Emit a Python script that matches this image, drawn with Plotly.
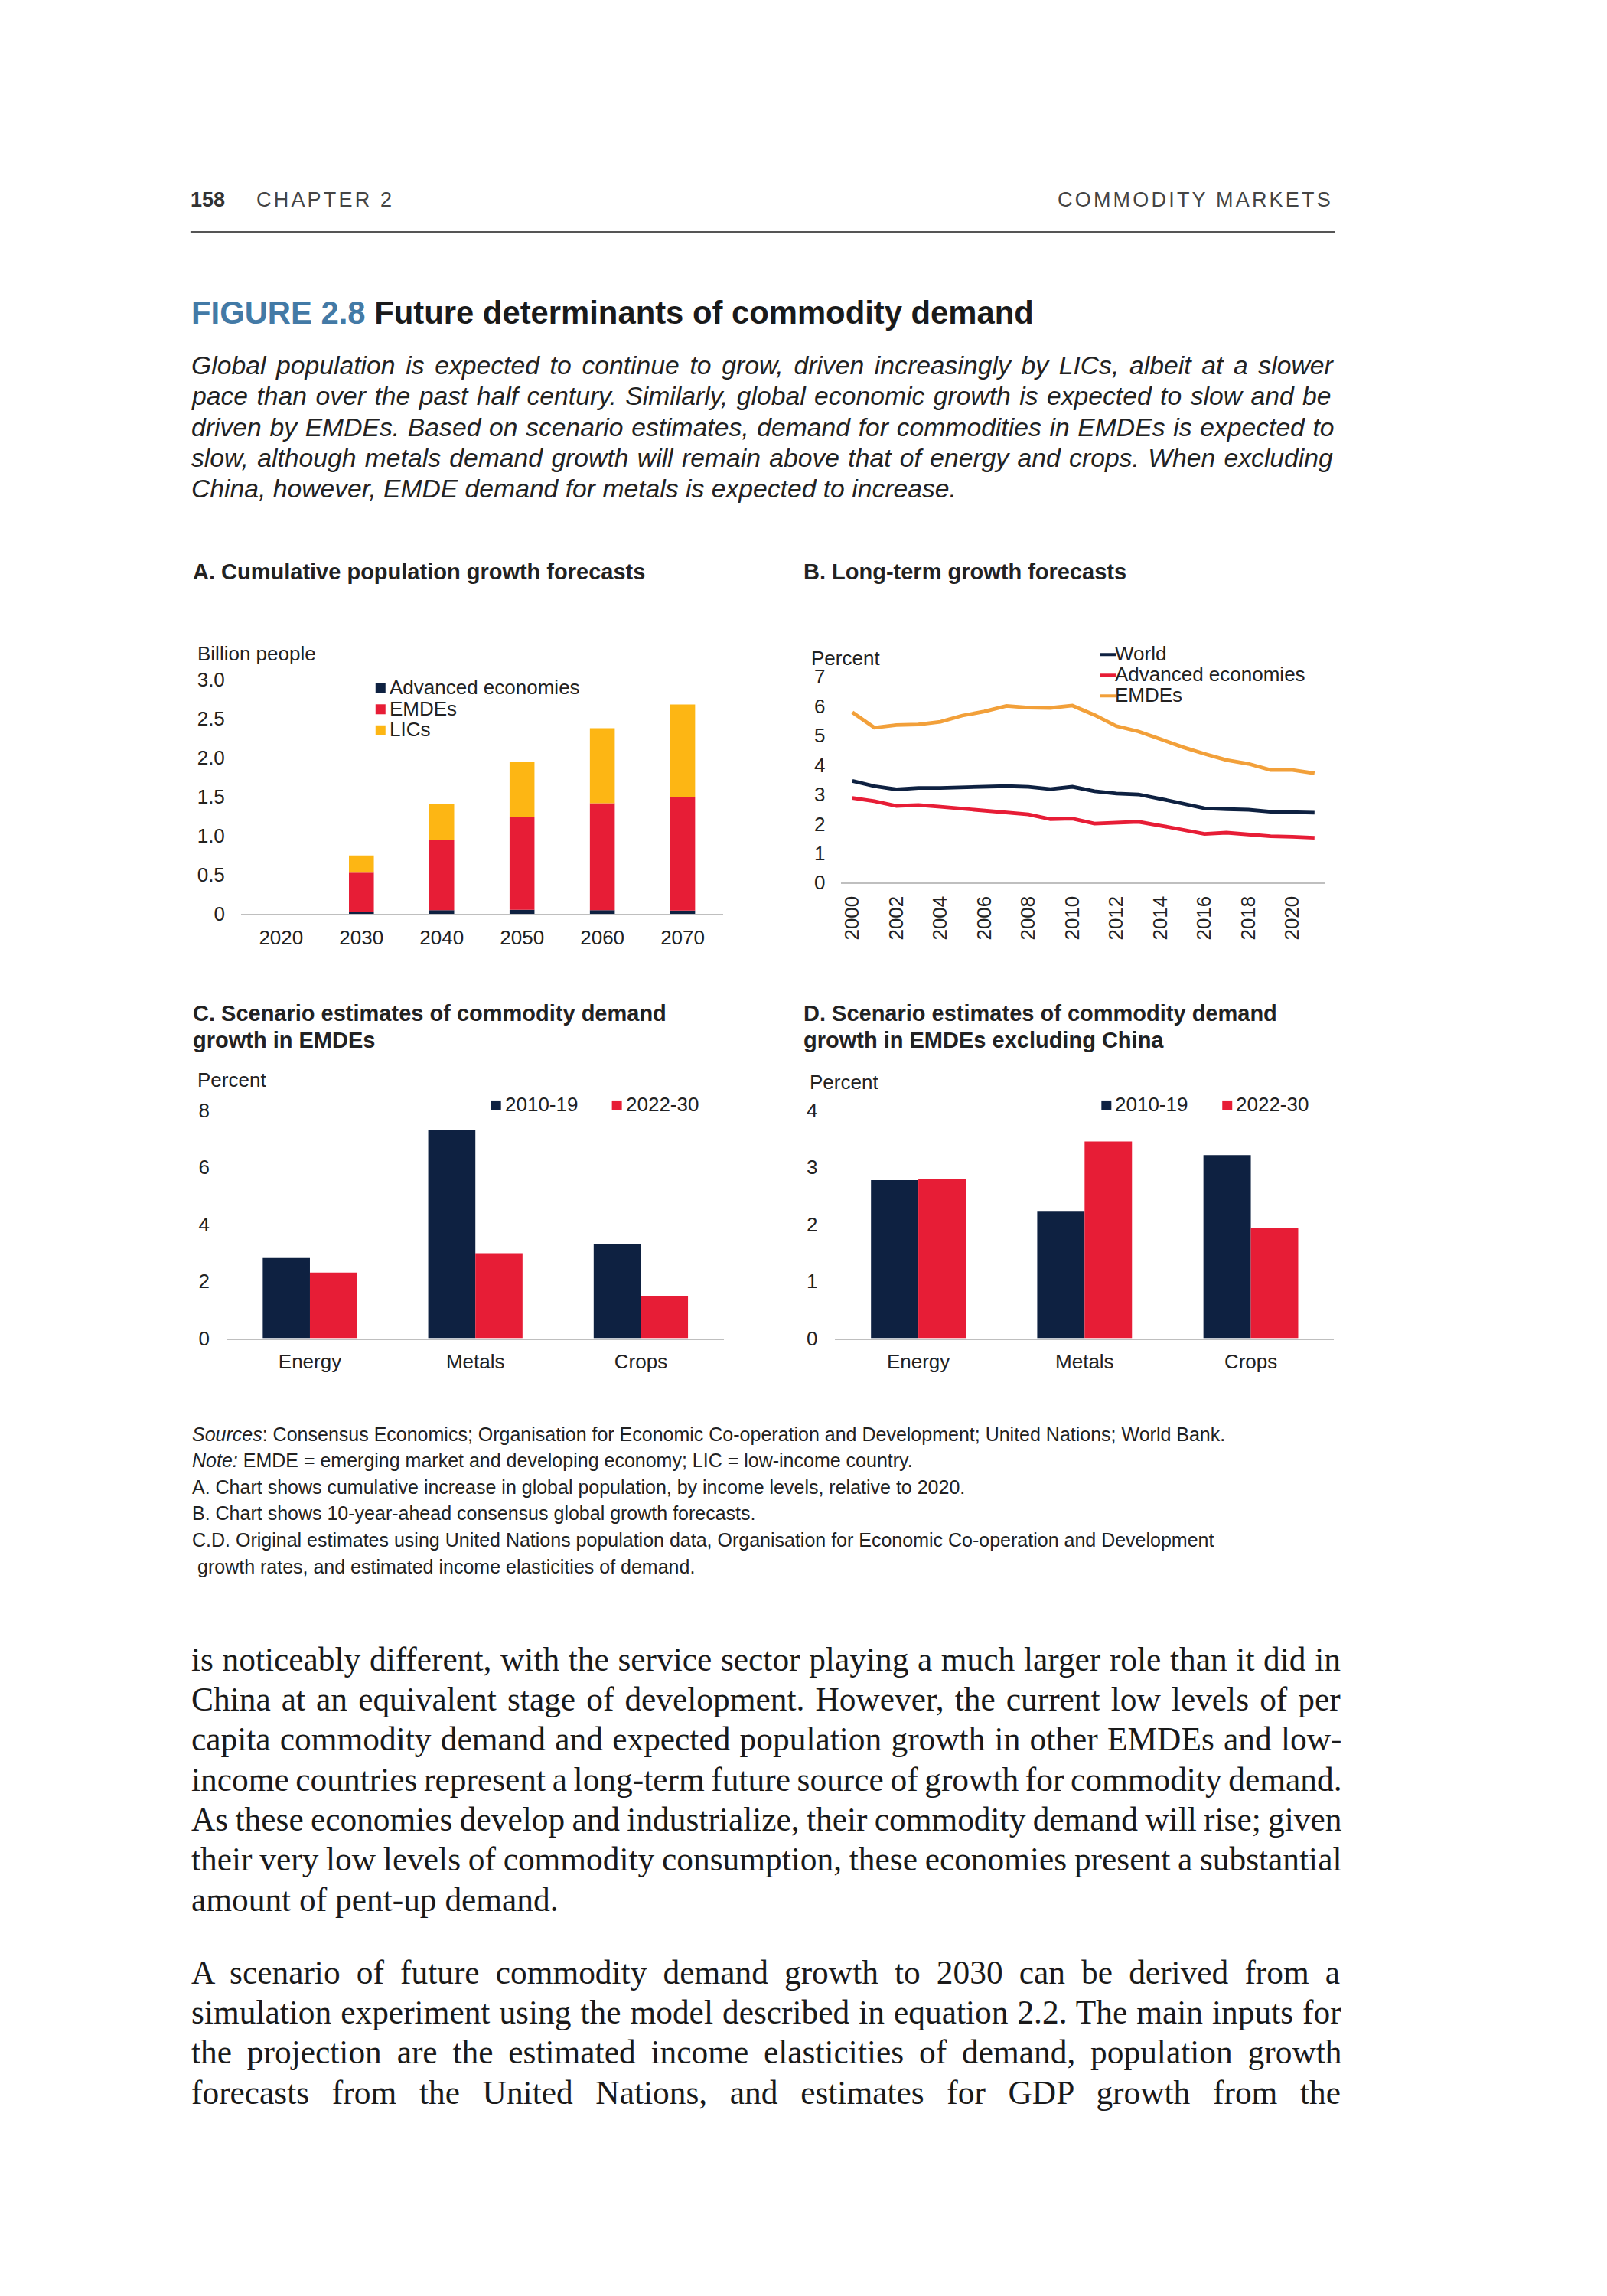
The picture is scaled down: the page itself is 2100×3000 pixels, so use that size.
import numpy as np
import plotly.graph_objects as go

W, H = 2100, 3000
# map target page pixels -> paper coords (compensates page offset/scale seen in render)
def X(px): return (px - 9) / W
def Y(py): return 1 - ((py - 22) / 0.9897) / H

# ---------------- DATA ----------------
# Panel A: cumulative population growth (billion people), relative to 2020
a_years = ["2020", "2030", "2040", "2050", "2060", "2070"]
a_adv = [0.0, 0.03, 0.05, 0.055, 0.05, 0.045]
a_emde = [0.0, 0.50, 0.90, 1.19, 1.37, 1.45]
a_lic = [0.0, 0.22, 0.46, 0.71, 0.96, 1.19]

# Panel B: long-term growth forecasts (percent)
b_years = list(range(2000, 2022))
b_world = [3.46, 3.28, 3.17, 3.22, 3.22, 3.24, 3.24, 3.28, 3.26, 3.18, 3.26,
           3.11, 3.03, 3.00, 2.85, 2.68, 2.53, 2.50, 2.48, 2.41, 2.41, 2.38]
b_adv = [2.88, 2.77, 2.61, 2.64, 2.58, 2.52, 2.46, 2.39, 2.32, 2.16, 2.18,
         2.01, 2.03, 2.07, 1.94, 1.80, 1.66, 1.70, 1.64, 1.58, 1.56, 1.53]
b_emde = [5.79, 5.27, 5.36, 5.38, 5.47, 5.68, 5.82, 6.01, 5.95, 5.94, 6.02,
          5.70, 5.32, 5.14, 4.88, 4.61, 4.38, 4.17, 4.04, 3.83, 3.83, 3.72]
b_ticks = list(range(2000, 2021, 2))

# Panels C and D: commodity demand growth (percent)
commodities = ["Energy", "Metals", "Crops"]
c_2010_19 = [2.81, 7.31, 3.29]
c_2022_30 = [2.30, 2.98, 1.46]
d_2010_19 = [2.77, 2.23, 3.21]
d_2022_30 = [2.79, 3.45, 1.94]

# ---------------- STYLE ----------------
NAVY = "#0e2141"
RED = "#e71d36"
YELLOW = "#fdb614"
ORANGE = "#f2a03a"
AXIS = "#bfbfbf"
TXT = "#222222"
BLUE = "#437aa6"
SANS = "Liberation Sans, Arial, sans-serif"
SERIF = "Liberation Serif, Times New Roman, serif"
TICK = dict(family=SANS, size=26, color=TXT)

# glyph advance widths (1/1000 em) used only to justify text lines
_AR = {' ': 278, ',': 278, '.': 278, '-': 333, ';': 278, ':': 278, "'": 191,
       'A': 667, 'B': 667, 'C': 722, 'D': 722, 'E': 667, 'F': 611, 'G': 778, 'H': 722,
       'I': 278, 'J': 500, 'K': 667, 'L': 556, 'M': 833, 'N': 722, 'O': 778, 'P': 667,
       'Q': 778, 'R': 722, 'S': 667, 'T': 611, 'U': 722, 'V': 667, 'W': 944, 'X': 667,
       'Y': 667, 'Z': 611, 'a': 556, 'b': 556, 'c': 500, 'd': 556, 'e': 556, 'f': 278,
       'g': 556, 'h': 556, 'i': 222, 'j': 222, 'k': 500, 'l': 222, 'm': 833, 'n': 556,
       'o': 556, 'p': 556, 'q': 556, 'r': 333, 's': 500, 't': 278, 'u': 556, 'v': 500,
       'w': 722, 'x': 500, 'y': 500, 'z': 500}
_TM = {' ': 250, ',': 250, '.': 250, '-': 333, ';': 278, ':': 278,
       'A': 722, 'B': 667, 'C': 667, 'D': 722, 'E': 611, 'F': 556, 'G': 722, 'H': 722,
       'I': 333, 'J': 389, 'K': 722, 'L': 611, 'M': 889, 'N': 722, 'O': 722, 'P': 556,
       'Q': 722, 'R': 667, 'S': 556, 'T': 611, 'U': 722, 'V': 722, 'W': 944, 'X': 722,
       'Y': 722, 'Z': 611, 'a': 444, 'b': 500, 'c': 444, 'd': 500, 'e': 444, 'f': 333,
       'g': 500, 'h': 500, 'i': 278, 'j': 278, 'k': 500, 'l': 278, 'm': 778, 'n': 500,
       'o': 500, 'p': 500, 'q': 500, 'r': 333, 's': 389, 't': 278, 'u': 500, 'v': 500,
       'w': 722, 'x': 500, 'y': 500, 'z': 444}

def justify(line, table, size, target):
    natural = sum(table.get(c, 500) for c in line) * size / 1000
    n = line.count(' ')
    ws = (target - natural) / n if n else 0
    return f'<span style="word-spacing:{ws:.2f}px">{line}</span>'

fig = go.Figure()

# Panel A (stacked via base)
adv = np.array(a_adv); emde = np.array(a_emde); lic = np.array(a_lic)
for name, vals, base, col in [("Advanced economies", adv, np.zeros_like(adv), NAVY),
                              ("EMDEs", emde, adv, RED),
                              ("LICs", lic, adv + emde, YELLOW)]:
    fig.add_trace(go.Bar(x=a_years, y=vals, base=base, name=name, marker_color=col,
                         marker_line_width=0, width=0.31, offset=-0.155,
                         xaxis="x", yaxis="y", showlegend=False))

# Panel B lines
for name, vals, col in [("World", b_world, NAVY), ("Advanced economies", b_adv, RED),
                        ("EMDEs", b_emde, ORANGE)]:
    fig.add_trace(go.Scatter(x=b_years, y=vals, mode="lines", name=name,
                             line=dict(color=col, width=4.8), xaxis="x2", yaxis="y2",
                             showlegend=False))

# Panels C, D grouped bars
for xa, ya, s1, s2 in [("x3", "y3", c_2010_19, c_2022_30), ("x4", "y4", d_2010_19, d_2022_30)]:
    fig.add_trace(go.Bar(x=commodities, y=s1, name="2010-19", marker_color=NAVY,
                         marker_line_width=0, xaxis=xa, yaxis=ya, showlegend=False))
    fig.add_trace(go.Bar(x=commodities, y=s2, name="2022-30", marker_color=RED,
                         marker_line_width=0, xaxis=xa, yaxis=ya, showlegend=False))

def xax(d0, d1, **kw):
    base = dict(domain=[X(d0), X(d1)], showline=True, linecolor=AXIS, linewidth=2,
                showgrid=False, zeroline=False, ticks="", tickfont=TICK, fixedrange=True)
    base.update(kw); return base

def yax(p0, p1, **kw):
    base = dict(domain=[Y(p0), Y(p1)], showline=False, showgrid=False, zeroline=False,
                ticks="", tickfont=TICK, fixedrange=True)
    base.update(kw); return base

fig.update_layout(
    width=W, height=H, margin=dict(l=0, r=0, t=0, b=0),
    paper_bgcolor="white", plot_bgcolor="white",
    barmode="group", bargap=0.43, bargroupgap=0,
    xaxis=xax(315, 945, type="category", range=[-0.5, 5.5], ticklabelstandoff=6, anchor="y"),
    yaxis=yax(1193, 887, range=[0, 3], tickvals=[0, 0.5, 1, 1.5, 2, 2.5, 3],
              ticktext=["0", "0.5", "1.0", "1.5", "2.0", "2.5", "3.0"],
              ticklabelstandoff=20, anchor="x"),
    xaxis2=xax(1100, 1733, range=[1999.5, 2021.5], tickvals=b_ticks, tickangle=-90,
               ticklabelstandoff=5, anchor="y2"),
    yaxis2=yax(1152, 883, range=[0, 7], dtick=1, ticklabelstandoff=20, anchor="x2"),
    xaxis3=xax(297, 946, type="category", range=[-0.5, 2.5], ticklabelstandoff=6, anchor="y3"),
    yaxis3=yax(1747, 1449, range=[0, 8], dtick=2, ticklabelstandoff=22, anchor="x3"),
    xaxis4=xax(1092, 1744, type="category", range=[-0.5, 2.5], ticklabelstandoff=6, anchor="y4"),
    yaxis4=yax(1747, 1449, range=[0, 4], dtick=1, ticklabelstandoff=22, anchor="x4"),
)

ann = []
def txt(x, y, t, size=26, color=TXT, family=SANS, xanchor="left"):
    ann.append(dict(x=X(x), y=Y(y), xref="paper", yref="paper", text=t, showarrow=False,
                    xanchor=xanchor, yanchor="middle", align="left",
                    font=dict(family=family, size=size, color=color)))

# Header
txt(247, 260, "<b>158</b>", 27, "#333333")
txt(333, 260, '<span style="letter-spacing:3.2px">CHAPTER 2</span>', 27, "#444444")
txt(1745, 260, '<span style="letter-spacing:3.2px">COMMODITY MARKETS</span>', 27, "#444444", xanchor="right")

# Figure title
txt(248, 407, f'<b><span style="color:{BLUE}">FIGURE 2.8</span> Future determinants of commodity demand</b>', 41.8, "#1a1a1a")

para = [
    "Global population is expected to continue to grow, driven increasingly by LICs, albeit at a slower",
    "pace than over the past half century. Similarly, global economic growth is expected to slow and be",
    "driven by EMDEs. Based on scenario estimates, demand for commodities in EMDEs is expected to",
    "slow, although metals demand growth will remain above that of energy and crops. When excluding",
    "China, however, EMDE demand for metals is expected to increase.",
]
PS = 33.7
for i, line in enumerate(para):
    t = justify(line, _AR, PS, 1494) if i < len(para) - 1 else line
    txt(248, 476 + i * 40.3, f"<i>{t}</i>", PS)

# Panel titles
txt(250, 746, "<b>A. Cumulative population growth forecasts</b>", 29)
txt(1048, 746, "<b>B. Long-term growth forecasts</b>", 29)
txt(250, 1323, "<b>C. Scenario estimates of commodity demand</b>", 29)
txt(250, 1358, "<b>growth in EMDEs</b>", 29)
txt(1048, 1323, "<b>D. Scenario estimates of commodity demand</b>", 29)
txt(1048, 1358, "<b>growth in EMDEs excluding China</b>", 29)

# Axis unit labels
txt(256, 853, "Billion people")
txt(1058, 859, "Percent")
txt(256, 1410, "Percent")
txt(1056, 1413, "Percent")

shapes = []
def sq(x0, yc, col, s=13):
    shapes.append(dict(type="rect", xref="paper", yref="paper", x0=X(x0), x1=X(x0 + s),
                       y0=Y(yc + s / 2), y1=Y(yc - s / 2), fillcolor=col, line_width=0))
def seg(x0, x1, yc, col):
    shapes.append(dict(type="line", xref="paper", yref="paper", x0=X(x0), x1=X(x1),
                       y0=Y(yc), y1=Y(yc), line=dict(color=col, width=4)))

# Legend A
for i, (name, col) in enumerate([("Advanced economies", NAVY), ("EMDEs", RED), ("LICs", YELLOW)]):
    yc = 897 + i * 27.5
    sq(491, yc + 1, col)
    txt(507, yc, name)
# Legend B
for i, (name, col) in enumerate([("World", NAVY), ("Advanced economies", RED), ("EMDEs", ORANGE)]):
    yc = 853 + i * 27
    seg(1438, 1459, yc + 1, col)
    txt(1456, yc, name)
# Legends C, D
for x0 in (642, 1440):
    sq(x0, 1443, NAVY); txt(x0 + 16, 1442, "2010-19")
    sq(x0 + 158, 1443, RED); txt(x0 + 174, 1442, "2022-30")

# Rule under header
shapes.append(dict(type="line", xref="paper", yref="paper", x0=X(249), x1=X(1745),
                   y0=Y(302), y1=Y(302), line=dict(color="#555555", width=2)))

# Notes
notes = [
    "<i>Sources</i>: Consensus Economics; Organisation for Economic Co-operation and Development; United Nations; World Bank.",
    "<i>Note:</i> EMDE = emerging market and developing economy; LIC = low-income country.",
    "A. Chart shows cumulative increase in global population, by income levels, relative to 2020.",
    "B. Chart shows 10-year-ahead consensus global growth forecasts.",
    "C.D. Original estimates using United Nations population data, Organisation for Economic Co-operation and Development",
    "growth rates, and estimated income elasticities of demand.",
]
for i, line in enumerate(notes):
    txt(249 if i < 5 else 256, 1872 + i * 34.6, line, 25)

body1 = [
    "is noticeably different, with the service sector playing a much larger role than it did in",
    "China at an equivalent stage of development. However, the current low levels of per",
    "capita commodity demand and expected population growth in other EMDEs and low-",
    "income countries represent a long-term future source of growth for commodity demand.",
    "As these economies develop and industrialize, their commodity demand will rise; given",
    "their very low levels of commodity consumption, these economies present a substantial",
    "amount of pent-up demand.",
]
body2 = [
    "A scenario of future commodity demand growth to 2030 can be derived from a",
    "simulation experiment using the model described in equation 2.2. The main inputs for",
    "the projection are the estimated income elasticities of demand, population growth",
    "forecasts from the United Nations, and estimates for GDP growth from the",
]
BS = 43.4
for i, line in enumerate(body1):
    t = justify(line, _TM, BS, 1504) if i < len(body1) - 1 else line
    txt(248, 2166 + i * 52.3, t, BS, "#1a1a1a", SERIF)
for i, line in enumerate(body2):
    txt(248, 2575 + i * 52.3, justify(line, _TM, BS, 1504), BS, "#1a1a1a", SERIF)

fig.update_layout(annotations=ann, shapes=shapes)
fig.write_html("out.html")
